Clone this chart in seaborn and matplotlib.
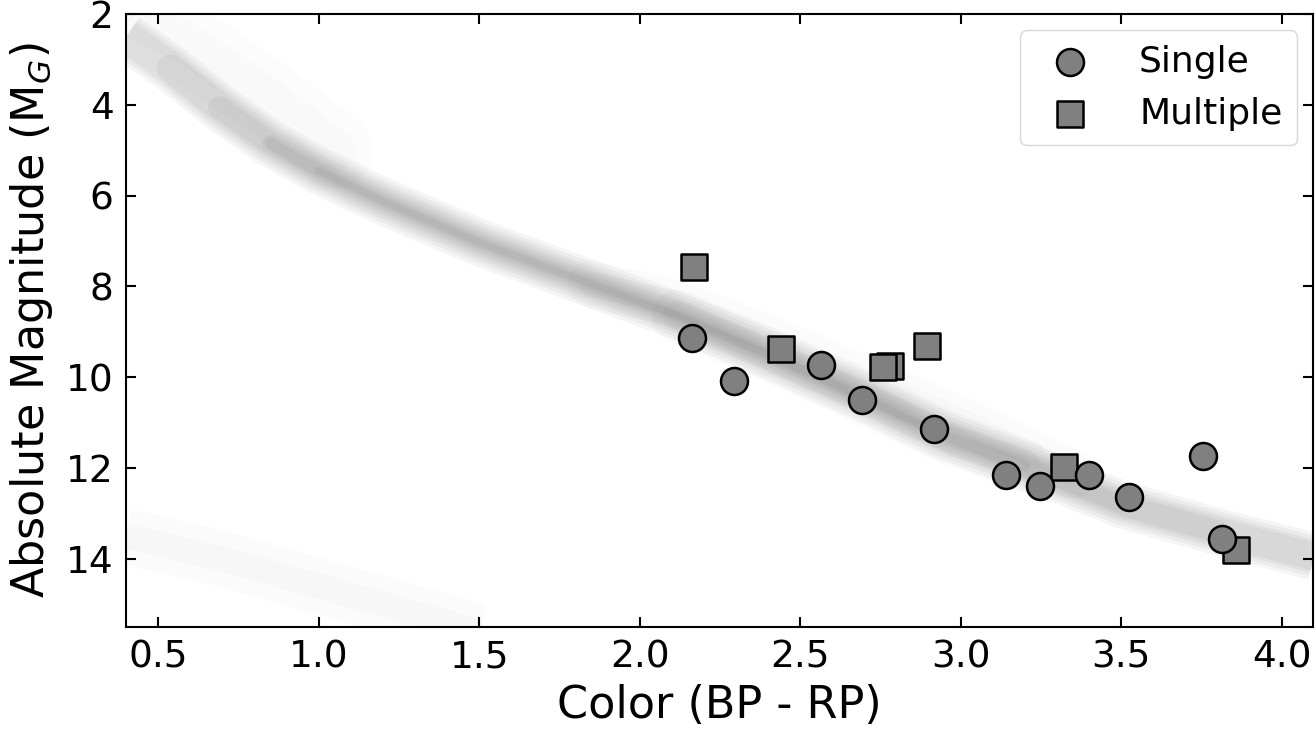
import matplotlib
matplotlib.use('Agg')
import matplotlib.pyplot as plt
import seaborn as sns

# Main-sequence ridge of the background field stars
ms_color = [0.40, 0.54, 0.69, 0.85, 1.00, 1.20, 1.50, 1.81, 2.12, 2.40, 2.70, 2.95, 3.20, 3.50, 3.80, 4.10]
ms_mag = [2.50, 3.20, 4.05, 4.85, 5.45, 6.12, 7.03, 7.84, 8.65, 9.50, 10.45, 11.30, 11.95, 12.80, 13.40, 13.95]

# faint haze above the turn-off, binary sequence, white dwarf sequence
haze_color = [0.40, 0.60, 0.85, 1.05]
haze_mag = [2.00, 2.70, 3.90, 5.00]
bin_color = [1.85, 2.10, 2.40, 2.70, 3.00, 3.35]
bin_mag = [7.95, 8.35, 9.15, 10.05, 10.95, 12.15]
wd_color = [0.40, 0.70, 1.00, 1.25, 1.50]
wd_mag = [13.50, 14.00, 14.60, 15.10, 15.60]

# Target stars
single_color = [2.163, 2.295, 2.566, 2.692, 2.916, 3.142, 3.247, 3.400, 3.525, 3.754, 3.815]
single_mag = [9.14, 10.08, 9.73, 10.51, 11.15, 12.16, 12.40, 12.15, 12.63, 11.74, 13.57]
multiple_color = [2.170, 2.439, 2.779, 2.758, 2.894, 3.323, 3.856]
multiple_mag = [7.56, 9.385, 9.75, 9.775, 9.30, 11.97, 13.81]

sns.set_style('ticks')
plt.rcParams['font.family'] = ['DejaVu Sans']
plt.rcParams['mathtext.fontset'] = 'dejavusans'
for key in ['text.color', 'axes.labelcolor', 'xtick.color', 'ytick.color', 'axes.edgecolor']:
    plt.rcParams[key] = 'black'

fig = plt.figure(figsize=(13.16, 7.34), dpi=100)
ax = fig.add_axes([0.0957, 0.1458, 0.902, 0.835])


def soft_line(xs, ys, lw, a, cap='round'):
    sns.lineplot(x=xs, y=ys, ax=ax, color='black', lw=lw, alpha=a, sort=False,
                 estimator=None, solid_capstyle=cap, solid_joinstyle='round', zorder=1)


# Background density, drawn as stacked soft lines (width, first, last index)
layers = [(34, 0, 16), (29, 0, 16), (24, 0, 16), (20, 1, 16), (16, 2, 15),
          (12, 3, 14), (8, 3, 13), (5, 4, 12)]
for lw, i0, i1 in layers:
    cap = 'butt' if i0 == 0 else 'round'
    soft_line(ms_color[i0:i1], ms_mag[i0:i1], lw, 0.04, cap)
for lw in [38, 22]:
    soft_line(ms_color[8:13], ms_mag[8:13], lw, 0.02)
for lw in [55, 30]:
    soft_line(haze_color, haze_mag, lw, 0.01)
for lw in [34, 18]:
    soft_line(bin_color, bin_mag, lw, 0.015)
for lw in [40, 18]:
    soft_line(wd_color, wd_mag, lw, 0.015, 'butt')

# Points: squares under circles
sns.scatterplot(x=multiple_color, y=multiple_mag, ax=ax, marker='s', s=377,
                color='#808080', edgecolor='black', linewidth=1.8, label='Multiple', zorder=3)
sns.scatterplot(x=single_color, y=single_mag, ax=ax, marker='o', s=377,
                color='#808080', edgecolor='black', linewidth=1.8, label='Single', zorder=4)

ax.set_xlim(0.40, 4.097)
ax.set_ylim(15.5, 2)
ax.set_xticks([0.5, 1.0, 1.5, 2.0, 2.5, 3.0, 3.5, 4.0])
ax.set_yticks([2, 4, 6, 8, 10, 12, 14])
ax.tick_params(direction='in', top=True, right=True, length=7, width=1.5,
               labelsize=27, pad=9)
for sp in ax.spines.values():
    sp.set_linewidth(1.5)

ax.set_xlabel('Color (BP - RP)', fontsize=32, labelpad=6)
ax.set_ylabel('Absolute Magnitude (M$_G$)', fontsize=32, labelpad=8)

handles, labels = ax.get_legend_handles_labels()
order = [labels.index('Single'), labels.index('Multiple')]
ax.legend([handles[i] for i in order], [labels[i] for i in order], loc='upper right',
          fontsize=26, handletextpad=0.9, frameon=True, borderaxespad=0.45)

plt.savefig('out.png', dpi=100)
plt.close()
